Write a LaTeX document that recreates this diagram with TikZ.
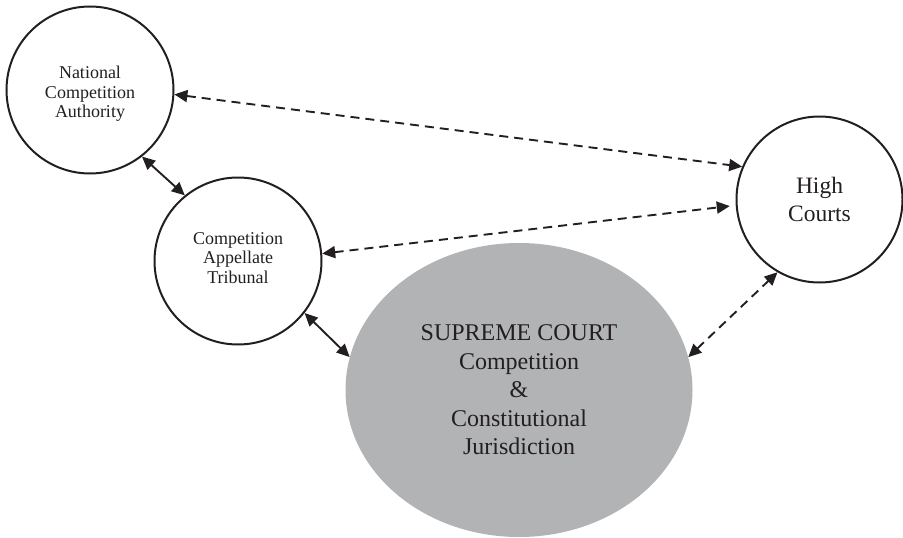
\documentclass[tikz,border=0pt]{standalone}
\usepackage{fontspec}
\setmainfont{Liberation Serif}
\usetikzlibrary{arrows.meta,shapes.geometric}
\definecolor{scgray}{RGB}{178,179,181}
\definecolor{ink}{RGB}{35,31,32}
\begin{document}
\begin{tikzpicture}[x=1pt,y=-1pt,
  smallcirc/.style={circle,draw=ink,line width=2pt,minimum size=167pt,inner sep=0pt},
  smalltext/.style={align=center,text=ink,inner sep=0pt,font=\fontsize{18}{19.5}\selectfont},
  bigcirc/.style={circle,draw=ink,line width=2pt,minimum size=166pt,inner sep=0pt,align=center,text=ink,
    font=\fontsize{23.5}{28}\selectfont},
  scnode/.style={ellipse,fill=scgray,draw=none,minimum width=347pt,minimum height=294pt,inner sep=0pt,align=center,text=ink,
    font=\fontsize{24}{28.5}\selectfont},
  solidarrow/.style={draw=ink,line width=1.9pt,
    {Triangle[length=13pt,width=12pt]}-{Triangle[length=13pt,width=12pt]}},
  dasharrow/.style={draw=ink,line width=1.9pt,dash pattern=on 9pt off 6pt,
    {Triangle[length=13pt,width=12pt]}-{Triangle[length=13pt,width=12pt]}}]
\useasboundingbox (0,0) rectangle (903,538);
\node[smallcirc,label={[smalltext,yshift=-4pt]center:National\\Competition\\Authority}] (nca) at (90,90) {};
\node[smallcirc,label={[smalltext,yshift=3pt]center:Competition\\Appellate\\Tribunal}] (cat) at (238,261) {};
\node[bigcirc] (hc) at (819.5,199.5) {High\\Courts};
\node[scnode] (sc) at (519,390) {SUPREME COURT\\Competition\\\&\\Constitutional\\Jurisdiction};
\draw[solidarrow] (nca.-52) -- (cat.129);
\draw[solidarrow] (cat.-38) -- (sc.169);
\draw[dasharrow] (nca.-3) -- (hc.157);
\draw[dasharrow,shorten >=6pt] (cat.5) -- (hc.184);
\draw[dasharrow] (sc.11) -- (hc.240);
\end{tikzpicture}
\end{document}
